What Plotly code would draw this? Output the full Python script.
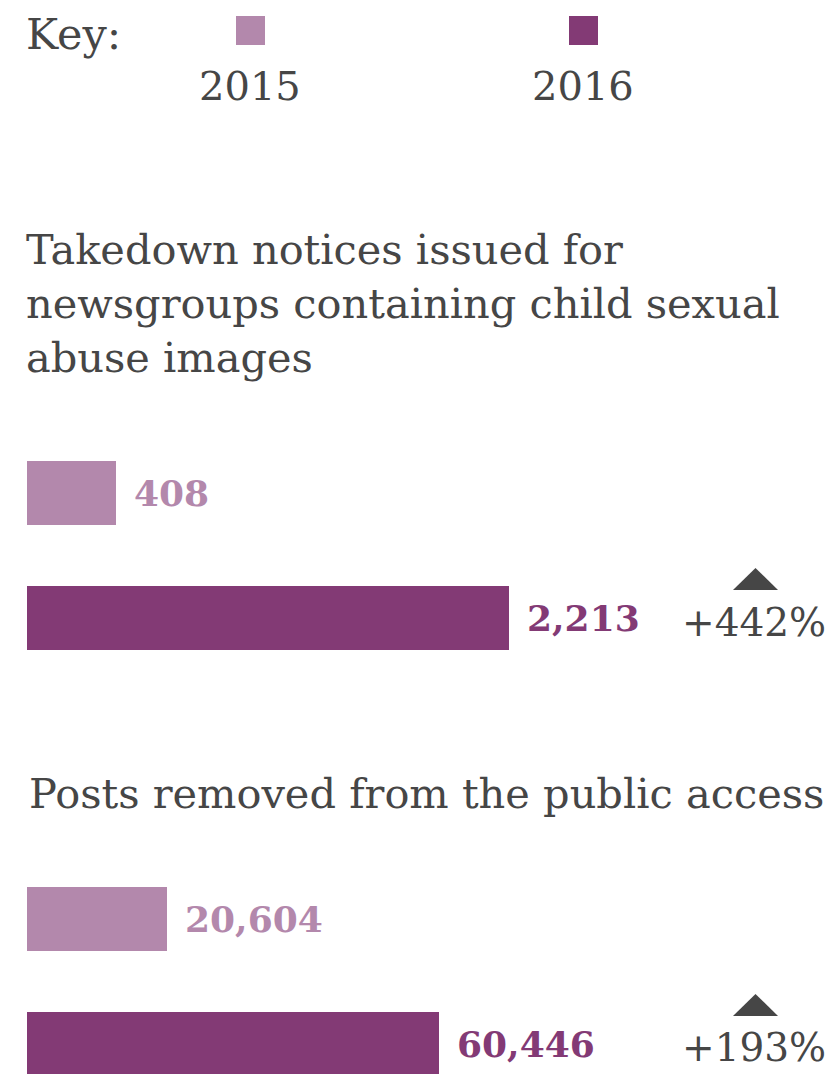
import plotly.graph_objects as go

# ---- data ----
years = ["2015", "2016"]
takedown_values = [408, 2213]
posts_values = [20604, 60446]
panel_titles = [
    "Takedown notices issued for<br>newsgroups containing child sexual<br>abuse images",
    "Posts removed from the public access",
]
colors = ["#b388ac", "#833a75"]
text_color = "#464646"
FONT = "DejaVu Serif"

W, H = 840, 1074
OFF = 8  # page body margin: figure starts 8px into the window


def py(p):
    """window pixel y (from top) -> paper y"""
    return 1 - (p - OFF) / H


def px(p):
    return (p - OFF) / W


fig = go.Figure()

panels = [
    (takedown_values, "x", "y"),
    (posts_values, "x2", "y2"),
]
for vals, xa, ya in panels:
    fig.add_trace(go.Bar(
        x=vals, y=years, orientation="h",
        marker=dict(color=colors, line=dict(width=0)),
        width=0.512, xaxis=xa, yaxis=ya,
        hoverinfo="skip", showlegend=False,
    ))
    for i, (v, c) in enumerate(zip(vals, colors)):
        fig.add_annotation(
            x=v, y=i, xref=xa, yref=ya, xanchor="left", yanchor="middle",
            xshift=16, yshift=0, showarrow=False,
            text="<b>{:,}</b>".format(v),
            font=dict(family=FONT, size=36, color=c),
        )

axis_common = dict(visible=False, showgrid=False, zeroline=False, fixedrange=True)
fig.update_layout(
    width=W, height=H,
    margin=dict(l=0, r=0, t=0, b=0),
    paper_bgcolor="white", plot_bgcolor="white",
    bargap=0,
    xaxis=dict(domain=[px(27), px(840)], range=[0, 3732.6], anchor="y", **axis_common),
    yaxis=dict(domain=[py(680), py(430)], range=[1.496, -0.504], anchor="x",
               type="category", **axis_common),
    xaxis2=dict(domain=[px(27), px(840)], range=[0, 119280], anchor="y2", **axis_common),
    yaxis2=dict(domain=[py(1074), py(856)], range=[1.24, -0.504], anchor="x2",
                type="category", **axis_common),
)

# ---- key ----
fig.add_annotation(x=px(24), y=py(34), xref="paper", yref="paper",
                   xanchor="left", yanchor="middle", showarrow=False,
                   text="Key:", font=dict(family=FONT, size=43, color=text_color))
for yr, c, cx in zip(years, colors, [250, 583]):
    fig.add_shape(type="rect", xref="paper", yref="paper",
                  x0=px(cx - 14), x1=px(cx + 15), y0=py(45), y1=py(16),
                  fillcolor=c, line=dict(width=0))
    fig.add_annotation(x=px(cx), y=py(86), xref="paper", yref="paper",
                       xanchor="center", yanchor="middle", showarrow=False,
                       text=yr, font=dict(family=FONT, size=40, color=text_color))

# ---- panel titles ----
fig.add_annotation(x=px(24), y=py(223), xref="paper", yref="paper",
                   xanchor="left", yanchor="top", align="left", showarrow=False,
                   text=panel_titles[0],
                   font=dict(family=FONT, size=41.5, color=text_color))
fig.add_annotation(x=px(27), y=py(793), xref="paper", yref="paper",
                   xanchor="left", yanchor="middle", align="left", showarrow=False,
                   text=panel_titles[1],
                   font=dict(family=FONT, size=41.5, color=text_color))

# ---- change labels with triangles ----
for vals, ycen, tri_top in [(takedown_values, 622, 568), (posts_values, 1047, 994)]:
    pct = round((vals[1] - vals[0]) / vals[0] * 100)
    fig.add_annotation(x=px(828), y=py(ycen), xref="paper", yref="paper",
                       xanchor="right", yanchor="middle", showarrow=False,
                       text="+{}%".format(pct),
                       font=dict(family=FONT, size=39, color=text_color))
    fig.add_shape(type="path", xref="paper", yref="paper",
                  path="M {} {} L {} {} L {} {} Z".format(
                      px(733), py(tri_top + 22), px(778), py(tri_top + 22),
                      px(755.5), py(tri_top)),
                  fillcolor=text_color, line=dict(width=0))

fig.write_html("out.html")
